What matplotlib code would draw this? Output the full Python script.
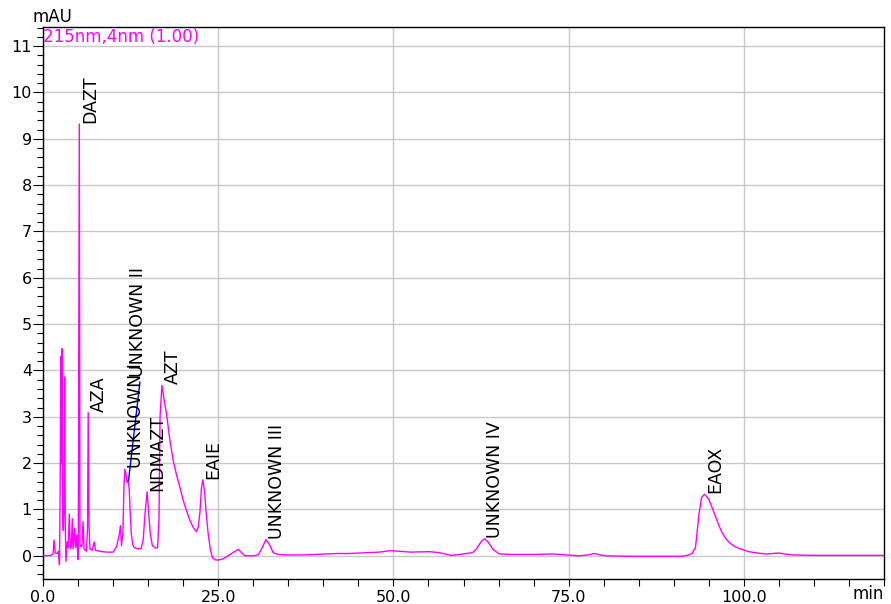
import matplotlib
matplotlib.use("Agg")
import matplotlib.pyplot as plt
from matplotlib.ticker import MultipleLocator, FuncFormatter

# ---- data (time in min, signal in mAU) ----
time_min = [
    0.0, 1.2, 1.45, 1.57, 1.75, 2.0, 2.2, 2.35, 2.45, 2.55, 2.62, 2.7, 2.8, 2.9,
    3.0, 3.09, 3.18, 3.28, 3.45, 3.6, 3.75, 3.9, 4.05, 4.18, 4.3, 4.51, 4.65,
    4.8, 4.92, 5.03, 5.18, 5.27, 5.4, 5.55, 5.72, 5.85, 6.2, 6.35, 6.45, 6.58,
    6.7, 7.0, 7.3, 7.5, 8.0, 9.0, 10.0, 10.5, 10.9, 11.05, 11.2, 11.4, 11.55,
    11.69, 11.85, 12.0, 12.15, 12.3, 12.45, 12.6, 12.8, 13.0, 13.5, 14.0, 14.3,
    14.55, 14.85, 15.05, 15.3, 15.6, 16.0, 16.35, 16.55, 16.7, 16.97, 17.3,
    17.63, 18.1, 18.58, 19.05, 19.53, 20.0, 20.48, 20.95, 21.44, 21.9, 22.15,
    22.4, 22.6, 22.81, 23.05, 23.3, 23.57, 23.9, 24.19, 24.6, 25.0, 25.6, 26.2,
    27.0, 27.85, 28.4, 28.8, 30.0, 30.7, 31.2, 31.8, 32.3, 32.84, 33.5, 35.0,
    37.1, 39.0, 41.8, 43.5, 45.0, 46.6, 48.0, 49.4, 50.7, 52.5, 55.1, 56.5,
    58.2, 59.5, 61.3, 61.8, 62.5, 63.0, 63.5, 64.2, 65.1, 67.0, 70.0, 72.7,
    74.5, 76.5, 77.8, 78.7, 79.5, 80.3, 83.6, 87.0, 91.2, 92.2, 92.6, 93.1,
    93.4, 93.6, 93.97, 94.4, 95.0, 95.5, 96.0, 96.45, 96.9, 97.4, 97.9, 98.6,
    99.3, 100.7, 102.0, 103.1, 104.2, 105.0, 105.8, 106.9, 110.0, 112.6, 116.0,
    120.0,
]
signal_mau = [
    0.0, 0.01, 0.05, 0.34, 0.06, 0.05, 0.1, -0.19, 1.5, 4.3, 2.0, 4.47, 0.8, 0.55,
    1.1, 3.86, 0.6, -0.12, 0.3, 0.18, 0.9, 0.15, 0.2, 0.8, 0.15, 0.6, 0.18,
    0.45, 0.1, -0.08, 9.32, 0.25, 0.2, 0.2, 0.74, 0.15, 0.1, 0.6, 3.09, 0.6,
    0.15, 0.12, 0.3, 0.12, 0.1, 0.08, 0.08, 0.2, 0.47, 0.65, 0.22, 0.5, 1.5,
    1.87, 1.75, 1.59, 1.62, 1.45, 0.9, 0.47, 0.25, 0.18, 0.15, 0.16, 0.35,
    0.9, 1.38, 1.0, 0.5, 0.22, 0.17, 0.17, 0.8, 3.0, 3.68, 3.35,
    3.06, 2.5, 2.05, 1.75, 1.48, 1.2, 0.97, 0.77, 0.61, 0.52, 0.62,
    0.95, 1.45, 1.64, 1.4, 0.9, 0.47, 0.12, -0.04, -0.09, -0.09, -0.07, -0.02,
    0.06, 0.14, 0.06, 0.0, 0.0, 0.02, 0.15, 0.35, 0.25, 0.07, 0.03, 0.02,
    0.02, 0.03, 0.05, 0.05, 0.06, 0.07, 0.08, 0.11, 0.1, 0.08, 0.09, 0.07,
    0.01, 0.03, 0.07, 0.14, 0.3, 0.37, 0.3, 0.14, 0.04, 0.03, 0.03, 0.04,
    0.02, 0.0, 0.02, 0.05, 0.02, 0.0, -0.01, -0.01, -0.01, 0.02, 0.05, 0.18,
    0.6, 0.9, 1.26, 1.33, 1.22, 1.03, 0.83, 0.65, 0.5, 0.38, 0.29, 0.21,
    0.16, 0.09, 0.06, 0.04, 0.05, 0.06, 0.04, 0.02, 0.01, 0.01, 0.01,
    0.01,
]

peak_names = ["DAZT", "AZA", "UNKNOWN I", "UNKNOWN II", "NDMAZT", "AZT",
              "EAIE", "UNKNOWN III", "UNKNOWN IV", "EAOX"]
peak_label_t = [5.18, 6.45, 11.69, 12.1, 14.85, 16.97, 22.81, 31.8, 63.0, 94.4]
peak_label_v = [9.32, 3.09, 1.87, 3.83, 1.38, 3.68, 1.64, 0.35, 0.37, 1.33]

# leader line (peak -> shifted label) for UNKNOWN II
leader_t = [12.2, 13.83]
leader_v = [1.62, 3.75]

x_major_ticks = [0, 25, 50, 75, 100]
y_major_ticks = list(range(0, 12))
channel_text = "215nm,4nm (1.00)"

# ---- figure ----
W, H = 891, 604
fig = plt.figure(figsize=(W / 100, H / 100), dpi=100)
ax = fig.add_axes([43 / W, 1 - 579 / H, (884 - 43) / W, (579 - 26.7) / H])

ax.plot(time_min, signal_mau, color="#ff00ff", lw=1.0, zorder=3)
ax.plot(leader_t, leader_v, color="#0000ff", lw=1.0, zorder=4)

ax.set_xlim(0, 120)
ax.set_ylim(-0.5, 11.42)

ax.set_xticks(x_major_ticks)
ax.xaxis.set_minor_locator(MultipleLocator(5))
ax.xaxis.set_major_formatter(FuncFormatter(lambda v, p: f"{v:.1f}"))
ax.set_yticks(y_major_ticks)
ax.yaxis.set_minor_locator(MultipleLocator(0.2))

ax.grid(True, which="major", color="#c8c8c8", lw=1.0, zorder=0)
ax.set_axisbelow(True)

ax.tick_params(axis="both", which="both", direction="out", colors="black",
               labelsize=11.5, width=0.8)
ax.tick_params(axis="y", which="major", length=7, pad=1)
ax.tick_params(axis="y", which="minor", length=4)
ax.tick_params(axis="x", which="major", length=5, pad=3)
ax.tick_params(axis="x", which="minor", length=5)
for s in ax.spines.values():
    s.set_color("black")
    s.set_linewidth(1.0)

for name, t, v in zip(peak_names, peak_label_t, peak_label_v):
    ax.annotate(name, xy=(t, v), xytext=(1.2, 0.8), textcoords="offset points",
                rotation=90, ha="left", va="bottom", fontsize=12.5,
                color="black", zorder=5)

ax.text(0.0, 0.998, channel_text, transform=ax.transAxes, ha="left", va="top",
        color="#ff00ff", fontsize=12)

fig.text(33 / W, 1 - 22 / H, "mAU", ha="left", va="baseline", fontsize=12)
fig.text(853 / W, 1 - 599 / H, "min", ha="left", va="baseline", fontsize=12)

fig.savefig("out.png", dpi=100)
